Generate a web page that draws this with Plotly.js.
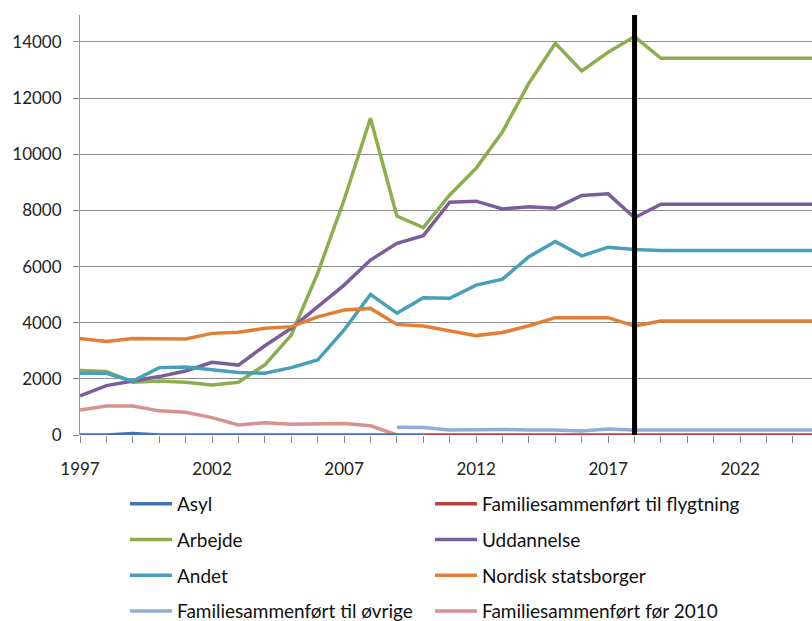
<!DOCTYPE html>
<html>
<head>
<meta charset="utf-8">
<script src="https://cdn.plot.ly/plotly-3.0.1.min.js"></script>
<style>html,body{margin:0;padding:0;background:#fff;overflow:hidden;}#chart{width:812px;height:640px;}</style>
</head>
<body>
<div id="chart"></div>
<script>
const years = [];
for (let y = 1997; y <= 2025; y++) years.push(y);

// Values (1997..2025)
const asylYears = [1997,1998,1999,2000,2001,2002,2003,2004,2005,2006,2007,2008,2009,2010];
const asyl = [0,0,50,0,0,0,0,0,0,0,0,0,0,0];

const flygtYears = [2010,2011,2012,2013,2014,2015,2016,2017,2018,2019,2020,2021,2022,2023,2024,2025];
const flygtning = [0,0,0,0,0,0,0,0,0,0,0,0,0,0,0,0];

const arbejde = [2300,2260,1880,1920,1880,1780,1880,2500,3560,5760,8370,11280,7800,7390,8550,9500,10800,12530,13950,12970,13630,14190,13420,13420,13420,13420,13420,13420,13420];
const uddannelse = [1390,1760,1920,2080,2280,2590,2490,3180,3800,4570,5340,6230,6830,7100,8290,8330,8050,8130,8080,8530,8590,7740,8220,8220,8220,8220,8220,8220,8220];
const andet = [2200,2200,1920,2400,2420,2320,2230,2200,2400,2670,3740,5010,4340,4890,4870,5340,5550,6350,6890,6380,6690,6610,6570,6570,6570,6570,6570,6570,6570];
const nordisk = [3440,3330,3440,3440,3420,3620,3660,3800,3860,4210,4450,4510,3940,3880,3700,3540,3650,3890,4180,4180,4180,3880,4060,4060,4060,4060,4060,4060,4060];

const oevrigeYears = [2009,2010,2011,2012,2013,2014,2015,2016,2017,2018,2019,2020,2021,2022,2023,2024,2025];
const oevrige = [280,270,180,200,200,180,180,140,210,180,180,180,180,180,180,180,180];

const foer2010Years = [1997,1998,1999,2000,2001,2002,2003,2004,2005,2006,2007,2008,2009];
const foer2010 = [890,1030,1030,860,810,620,360,440,380,380,410,330,0];

const markerYear = 2018;

const font = "Lato, 'Open Sans', sans-serif";
const lw = 3.5;
const xRange = [1997, 2024.72];

function tr(name, x, y, color, legend, group, xa) {
  return {type:'scatter', mode:'lines', name:name, x:x, y:y, xaxis:xa || 'x',
    line:{color:color, width:lw}, legend:legend, legendgroup:group, hoverinfo:'x+y+name'};
}

const traces = [
  tr('Asyl', asylYears, asyl, '#4272B2', 'legend', 'g1', 'x2'),
  tr('Familiesammenført til flygtning', flygtYears, flygtning, '#B9443F', 'legend2', 'g2'),
  tr('Arbejde', years, arbejde, '#8DAE4E', 'legend', 'g3'),
  tr('Uddannelse', years, uddannelse, '#7B5D9C', 'legend2', 'g4'),
  tr('Andet', years, andet, '#47A0BA', 'legend', 'g5'),
  tr('Nordisk statsborger', years, nordisk, '#E27F36', 'legend2', 'g6'),
  tr('Familiesammenført til øvrige', oevrigeYears, oevrige, '#92AED6', 'legend', 'g7'),
  tr('Familiesammenført før 2010', foer2010Years, foer2010, '#D99190', 'legend2', 'g8')
];

const legendCommon = {orientation:'v', xanchor:'left', yanchor:'top',
  font:{family:font, size:19, color:'#111'}, tracegroupgap:8, traceorder:'grouped',
  bgcolor:'rgba(0,0,0,0)', itemwidth:42, borderwidth:0};

const layout = {
  width:812, height:640,
  margin:{l:80, r:0, t:15, b:205},
  paper_bgcolor:'#fff', plot_bgcolor:'#fff',
  font:{family:font, size:17, color:'#222'},
  showlegend:true,
  xaxis:{type:'linear', range:xRange, tick0:1997, dtick:1,
    ticks:'outside', ticklen:7, tickcolor:'#888', showgrid:false, zeroline:false,
    showline:false, showticklabels:false},
  xaxis2:{type:'linear', range:xRange, overlaying:'x', anchor:'y', side:'bottom',
    tick0:1997, dtick:5, tickformat:'d', ticks:'outside', ticklen:19, tickcolor:'rgba(0,0,0,0)',
    showgrid:false, zeroline:false, showline:false,
    tickfont:{family:font, size:17, color:'#222'}},
  yaxis:{range:[0, 14960], dtick:2000, tick0:0, tickformat:'d', showgrid:true, gridcolor:'#8c8c8c', gridwidth:1,
    zeroline:false, showline:true, linecolor:'#999', linewidth:1, ticks:'outside', ticklen:6, tickcolor:'#8c8c8c',
    ticklabelstandoff:8, tickfont:{family:font, size:17, color:'#222'}},
  legend:Object.assign({}, legendCommon, {x:(125-80)/732, y:(435-485)/420}),
  legend2:Object.assign({}, legendCommon, {x:(430-80)/732, y:(435-485)/420}),
  shapes:[{type:'line', xref:'x', yref:'paper', x0:markerYear, x1:markerYear, y0:0, y1:1,
    line:{color:'#000', width:5}, layer:'above'}]
};

Plotly.newPlot('chart', traces, layout, {displayModeBar:false, staticPlot:true});
</script>
</body>
</html>
